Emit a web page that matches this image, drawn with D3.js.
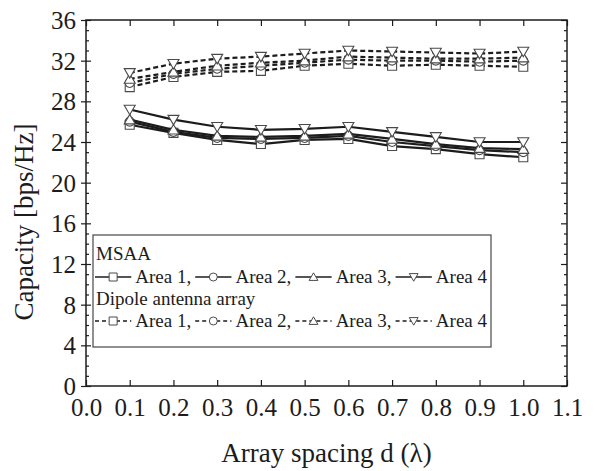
<!DOCTYPE html>
<html>
<head>
<meta charset="utf-8">
<script src="https://cdn.jsdelivr.net/npm/d3@7"></script>
<style>
  html, body { margin: 0; padding: 0; background: #fff; }
  svg text { font-family: "Liberation Serif", "DejaVu Serif", serif; }
</style>
</head>
<body>
<svg id="chart" width="594" height="471"></svg>
<script>
// Array spacing (in wavelengths)
const spacing = [0.1, 0.2, 0.3, 0.4, 0.5, 0.6, 0.7, 0.8, 0.9, 1.0];

// Capacity [bps/Hz], MSAA
const msaaArea1 = [25.7, 24.9, 24.2, 23.8, 24.2, 24.3, 23.6, 23.3, 22.8, 22.5];
const msaaArea2 = [26.0, 25.0, 24.4, 24.3, 24.4, 24.6, 24.0, 23.6, 23.2, 23.0];
const msaaArea3 = [26.2, 25.2, 24.6, 24.5, 24.6, 24.8, 24.3, 23.8, 23.4, 23.3];
const msaaArea4 = [27.2, 26.2, 25.5, 25.2, 25.3, 25.5, 25.0, 24.5, 24.0, 24.0];

// Capacity [bps/Hz], dipole antenna array
const dipoleArea1 = [29.4, 30.4, 30.9, 31.0, 31.5, 31.7, 31.5, 31.6, 31.5, 31.4];
const dipoleArea2 = [29.8, 30.7, 31.2, 31.5, 31.8, 32.1, 32.0, 32.0, 31.9, 32.0];
const dipoleArea3 = [30.2, 30.9, 31.5, 31.8, 32.0, 32.4, 32.3, 32.2, 32.2, 32.3];
const dipoleArea4 = [30.8, 31.7, 32.2, 32.4, 32.7, 33.0, 32.9, 32.8, 32.7, 32.9];

// Axis ticks
const xTicks = [0.0, 0.1, 0.2, 0.3, 0.4, 0.5, 0.6, 0.7, 0.8, 0.9, 1.0, 1.1];
const yTicks = [0, 4, 8, 12, 16, 20, 24, 28, 32, 36];
const yMinorTicks = d3.range(0, 37, 1);

const areaNames = ["Area 1", "Area 2", "Area 3", "Area 4"];
const markerKinds = ["square", "circle", "triUp", "triDown"];

const FONT = "'Liberation Serif', 'DejaVu Serif', serif";
const svg = d3.select("#chart").attr("font-family", FONT);
const ink = "#1c1c1c";
const markInk = "#4a4a4a";

const plot = { left: 86, right: 567, top: 20, bottom: 386 };
const x = d3.scaleLinear().domain([0, 1.1]).range([plot.left, plot.right]);
const y = d3.scaleLinear().domain([0, 36]).range([plot.bottom, plot.top]);

// Marker path generator centred on (0,0)
function markerPath(kind, s) {
  const h = s / 2;
  if (kind === "square") return `M${-h},${-h}H${h}V${h}H${-h}Z`;
  if (kind === "circle") return d3.symbol(d3.symbolCircle, Math.PI * h * h)();
  if (kind === "triUp") return `M0,${-h * 1.05}L${h * 1.1},${h * 0.85}L${-h * 1.1},${h * 0.85}Z`;
  return `M0,${h * 1.05}L${h * 1.1},${-h * 0.85}L${-h * 1.1},${-h * 0.85}Z`;
}

// Frame
svg.append("rect")
  .attr("x", plot.left).attr("y", plot.top)
  .attr("width", plot.right - plot.left).attr("height", plot.bottom - plot.top)
  .attr("fill", "none").attr("stroke", ink).attr("stroke-width", 1.5);

// Bottom axis: ticks point inward
const xAxisBottom = d3.axisBottom(x).tickValues(xTicks).tickSize(-6).tickFormat(d3.format(".1f")).tickPadding(12);
const gxb = svg.append("g").attr("transform", `translate(0,${plot.bottom})`).call(xAxisBottom);
// Top axis: ticks only
const gxt = svg.append("g").attr("transform", `translate(0,${plot.top})`)
  .call(d3.axisTop(x).tickValues(xTicks).tickSize(-6).tickFormat(""));
// Left axis: major ticks cross the spine, minor ticks inside
const gyl = svg.append("g").attr("transform", `translate(${plot.left},0)`)
  .call(d3.axisLeft(y).tickValues(yTicks).tickSize(5).tickPadding(5).tickFormat(d3.format("d")));
gyl.selectAll(".tick line").attr("x2", -5).attr("x1", 5);
const gylm = svg.append("g").attr("transform", `translate(${plot.left},0)`)
  .call(d3.axisLeft(y).tickValues(yMinorTicks.filter(v => v % 4 !== 0)).tickSize(-3).tickFormat(""));
// Right axis: ticks inside
const gyr = svg.append("g").attr("transform", `translate(${plot.right},0)`)
  .call(d3.axisRight(y).tickValues(yTicks).tickSize(-6).tickFormat(""));
const gyrm = svg.append("g").attr("transform", `translate(${plot.right},0)`)
  .call(d3.axisRight(y).tickValues(yMinorTicks.filter(v => v % 4 !== 0)).tickSize(-3).tickFormat(""));

[gxb, gxt, gyl, gylm, gyr, gyrm].forEach(g => {
  g.attr("font-family", FONT);
  g.select(".domain").remove();
  g.selectAll(".tick line").attr("stroke", ink).attr("stroke-width", 1.2);
  g.selectAll(".tick text").attr("fill", ink).attr("font-size", 25).attr("font-family", FONT);
});
gyl.selectAll(".tick text").attr("dy", "0.34em");

// Axis titles
svg.append("text")
  .attr("x", (plot.left + plot.right) / 2).attr("y", 462)
  .attr("text-anchor", "middle").attr("font-size", 27).attr("fill", ink)
  .attr("font-family", FONT)
  .text("Array spacing d (λ)");
svg.append("text")
  .attr("transform", `translate(33,${222}) rotate(-90)`)
  .attr("text-anchor", "middle").attr("font-size", 27).attr("fill", ink)
  .attr("font-family", FONT)
  .text("Capacity [bps/Hz]");

// Series
const groups = [
  { dash: null, series: [msaaArea1, msaaArea2, msaaArea3, msaaArea4] },
  { dash: "5,3", series: [dipoleArea1, dipoleArea2, dipoleArea3, dipoleArea4] }
];
const line = d3.line().x((d, i) => x(spacing[i])).y(d => y(d));

groups.forEach(grp => {
  grp.series.forEach((vals, k) => {
    const g = svg.append("g");
    g.append("path").datum(vals)
      .attr("d", line).attr("fill", "none").attr("stroke", ink)
      .attr("stroke-width", 2.2).attr("stroke-dasharray", grp.dash);
    g.selectAll("path.mk").data(vals).join("path").attr("class", "mk")
      .attr("transform", (d, i) => `translate(${x(spacing[i])},${y(d)})`)
      .attr("d", markerPath(markerKinds[k], k < 2 ? 9 : 10))
      .attr("fill", "#fff").attr("stroke", markInk).attr("stroke-width", 1.1);
  });
});

// Legend
const lg = { x: 93, y: 235, w: 398, h: 112 };
svg.append("rect").attr("x", lg.x).attr("y", lg.y).attr("width", lg.w).attr("height", lg.h)
  .attr("fill", "#fff").attr("stroke", "#555").attr("stroke-width", 1.3);

const legendFont = 19;
const legendRows = [
  { title: "MSAA", titleY: 260, rowY: 283, dash: null },
  { title: "Dipole antenna array", titleY: 305, rowY: 327, dash: "4,3" }
];
const gapBefore = 4, gapAfter = 4;
legendRows.forEach(row => {
  svg.append("text").attr("x", lg.x + 3).attr("y", row.titleY)
    .attr("font-size", legendFont).attr("fill", ink).attr("font-family", FONT).text(row.title);
  // place labels first to size the line samples so the row fills the box
  const labels = areaNames.map((name, k) =>
    svg.append("text").attr("y", row.rowY)
      .attr("font-size", legendFont).attr("fill", ink).attr("font-family", FONT)
      .text(k < 3 ? name + "," : name));
  const textW = d3.sum(labels, t => t.node().getComputedTextLength());
  const seg = (lg.w - 6 - textW - 4 * gapBefore - 3 * gapAfter) / 4;
  let cx = lg.x + 2;
  const my = row.rowY - 6;
  areaNames.forEach((name, k) => {
    svg.append("line").attr("x1", cx).attr("x2", cx + seg)
      .attr("y1", my).attr("y2", my)
      .attr("stroke", ink).attr("stroke-width", 1.6).attr("stroke-dasharray", row.dash);
    svg.append("path").attr("transform", `translate(${cx + seg / 2},${my})`)
      .attr("d", markerPath(markerKinds[k], 8))
      .attr("fill", "#fff").attr("stroke", markInk).attr("stroke-width", 1);
    labels[k].attr("x", cx + seg + gapBefore);
    cx += seg + gapBefore + labels[k].node().getComputedTextLength() + gapAfter;
  });
});
</script>
</body>
</html>
